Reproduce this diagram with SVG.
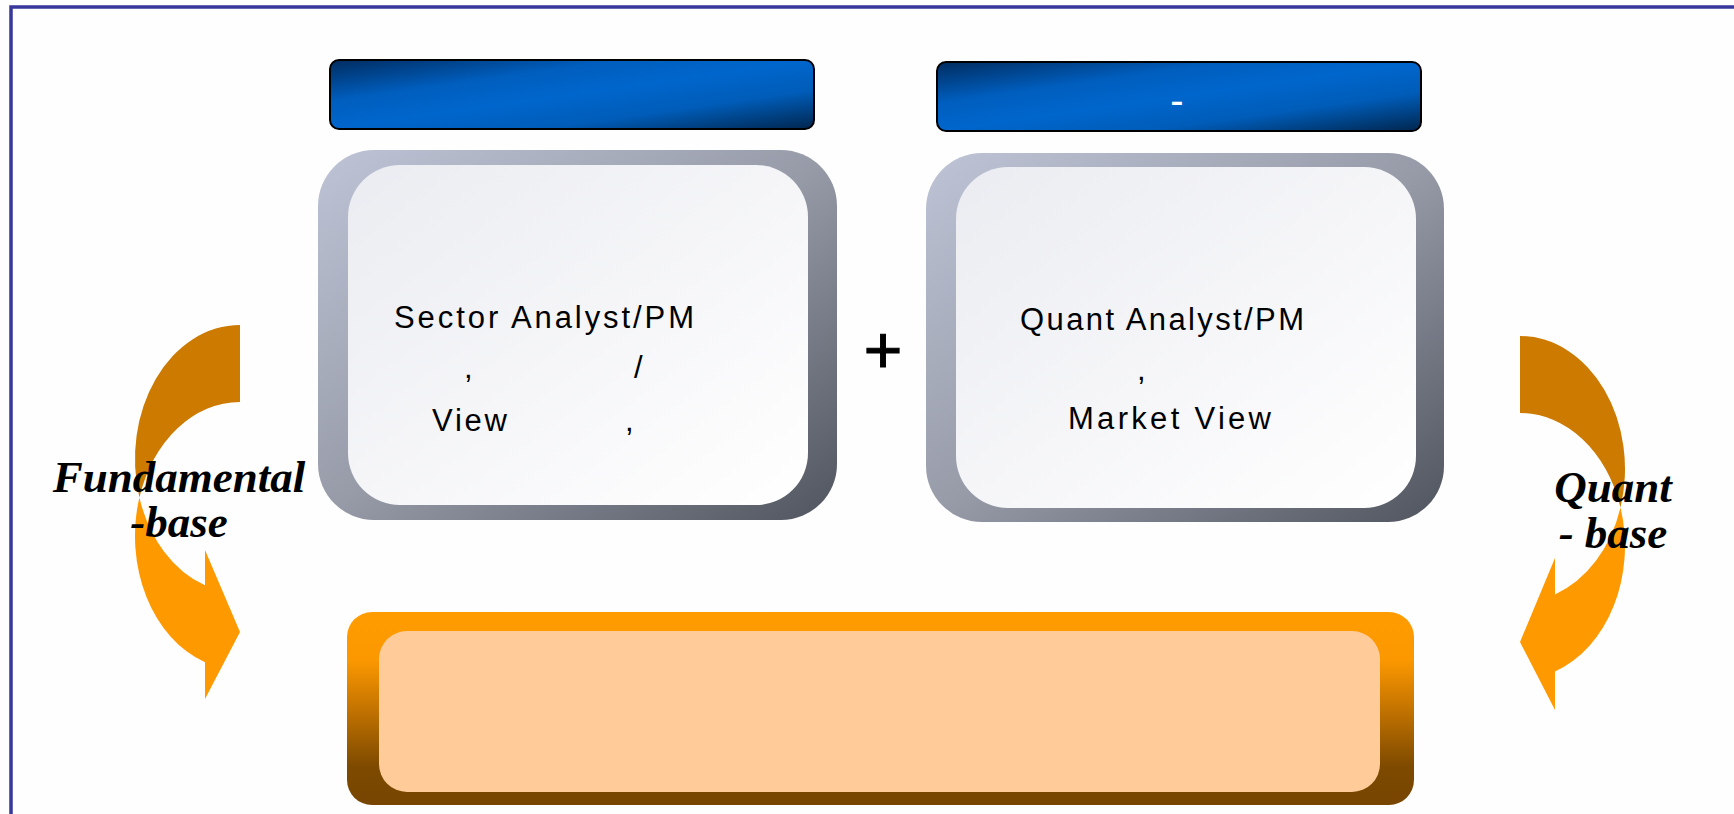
<svg xmlns="http://www.w3.org/2000/svg" width="1734" height="814" viewBox="0 0 1734 814">
<defs>
<linearGradient id="gBlue" x1="0" y1="0" x2="1" y2="1">
<stop offset="0" stop-color="#002C60"/>
<stop offset="0.3" stop-color="#005EBE"/>
<stop offset="0.5" stop-color="#0066CC"/>
<stop offset="0.72" stop-color="#005CB8"/>
<stop offset="1" stop-color="#00264E"/>
</linearGradient>
<linearGradient id="gGrayOuter" x1="0" y1="0" x2="1" y2="1">
<stop offset="0" stop-color="#BEC4D6"/>
<stop offset="0.5" stop-color="#979BA8"/>
<stop offset="1" stop-color="#50545E"/>
</linearGradient>
<linearGradient id="gGrayInner" x1="0" y1="0" x2="1" y2="1">
<stop offset="0" stop-color="#EBECF1"/>
<stop offset="1" stop-color="#FFFFFF"/>
</linearGradient>
<linearGradient id="gOrange" x1="0" y1="0" x2="0" y2="1">
<stop offset="0" stop-color="#FF9C00"/>
<stop offset="0.25" stop-color="#FB9800"/>
<stop offset="0.5" stop-color="#C47400"/>
<stop offset="0.8" stop-color="#7E4A00"/>
<stop offset="1" stop-color="#774500"/>
</linearGradient>
<style>
.blue{fill:url(#gBlue);stroke:#000;stroke-width:2}
.gout{fill:url(#gGrayOuter)}
.gin{fill:url(#gGrayInner)}
.t{font-family:"Liberation Sans",Arial,sans-serif;font-size:31px;fill:#000}
.lbl{font-family:"Liberation Serif","Times New Roman",serif;font-size:45px;font-weight:bold;font-style:italic;fill:#000;text-anchor:middle}
.dark{fill:#CC7A00}
.light{fill:#FF9900}
</style>
</defs>
<rect width="1734" height="814" fill="#FEFEFE"/>
<rect id="frame" x="11" y="7" width="1800" height="900" fill="none" stroke="#38389A" stroke-width="3.5"/>

<g id="header-left">
<rect class="blue" x="330" y="60" width="484" height="69" rx="9"/>
</g>
<g id="header-right">
<rect class="blue" x="937" y="62" width="484" height="69" rx="9"/>
<text x="1177" y="114" font-family="Liberation Sans,Arial,sans-serif" font-size="40" fill="#FFFFFF" text-anchor="middle">-</text>
</g>

<g id="sector-box">
<rect class="gout" x="318" y="150" width="519" height="370" rx="56"/>
<rect class="gin" x="348" y="165" width="460" height="340" rx="52"/>
<text class="t" x="394" y="328" textLength="300" lengthAdjust="spacing">Sector Analyst/PM</text>
<text class="t" x="464" y="378">,</text>
<text class="t" x="634" y="378">/</text>
<text class="t" x="432" y="431" textLength="75" lengthAdjust="spacing">View</text>
<text class="t" x="625" y="431">,</text>
</g>

<g id="plus">
<text x="883" y="373" font-family="Liberation Sans,Arial,sans-serif" font-size="66" fill="#000" stroke="#000" stroke-width="1.2" text-anchor="middle">+</text>
</g>

<g id="quant-box">
<rect class="gout" x="926" y="153" width="518" height="369" rx="56"/>
<rect class="gin" x="956" y="167" width="460" height="341" rx="52"/>
<text class="t" x="1020" y="330" textLength="284" lengthAdjust="spacing">Quant Analyst/PM</text>
<text class="t" x="1137" y="380">,</text>
<text class="t" x="1068" y="429" textLength="203" lengthAdjust="spacing">Market View</text>
</g>

<g id="result-box">
<rect x="347" y="612" width="1067" height="193" rx="25" fill="url(#gOrange)"/>
<rect x="379" y="631" width="1001" height="161" rx="28" fill="#FFCC99"/>
</g>

<g id="connectors">
<g id="arrow-fundamental">
<path class="dark" d="M240,325 A105,134 0 0 0 139.4,497.5 A105,134 0 0 1 240,402 Z"/>
<path class="light" d="M139.4,497.5 A105,134 0 0 0 205,662.3 L205,699 L240,632 L205,550 L205,585.3 A105,134 0 0 1 139.4,497.5 Z"/>
</g>
<g id="arrow-quant">
<path class="dark" d="M1520,336 A105,133 0 0 1 1620.5,507.5 A105,133 0 0 0 1520,413 Z"/>
<path class="light" d="M1620.5,507.5 A105,133 0 0 1 1555,671.4 L1555,710 L1520,642 L1555,558 L1555,594.4 A105,133 0 0 0 1620.5,507.5 Z"/>
</g>
</g>

<g id="label-fundamental">
<text class="lbl" x="179" y="492">Fundamental</text>
<text class="lbl" x="179" y="537">-base</text>
</g>
<g id="label-quant">
<text class="lbl" x="1613" y="502">Quant</text>
<text class="lbl" x="1613" y="548">- base</text>
</g>
</svg>
